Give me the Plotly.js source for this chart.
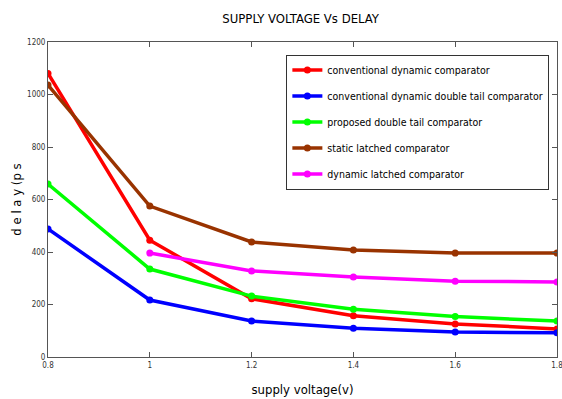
<!DOCTYPE html>
<html>
<head>
<meta charset="utf-8">
<script src="https://cdn.plot.ly/plotly-3.0.1.min.js"></script>
<style>html,body{margin:0;padding:0;background:#fff;}#chart{width:562px;height:399px;}</style>
</head>
<body>
<div id="chart"></div>
<script>
const voltage = [0.8, 1.0, 1.2, 1.4, 1.6, 1.8];
const convDynamic = [1080, 445, 222, 157, 126, 107];
const convDoubleTail = [488, 217, 137, 110, 95, 92];
const proposedDoubleTail = [659, 335, 232, 182, 154, 137];
const staticLatched = [1036, 575, 438, 408, 396, 396];
const dynamicLatchedV = [1.0, 1.2, 1.4, 1.6, 1.8];
const dynamicLatched = [396, 328, 305, 289, 286];
const seriesNames = [
  'conventional dynamic comparator',
  'conventional dynamic double tail comparator',
  'proposed double tail comparator',
  'static latched comparator',
  'dynamic latched comparator'
];
const xTicks = [0.8, 1, 1.2, 1.4, 1.6, 1.8];
const yTicks = [0, 200, 400, 600, 800, 1000, 1200];

const colors = ['#ff0000', '#0000ff', '#00ff00', '#993300', '#ff00ff'];
const xs = [voltage, voltage, voltage, voltage, dynamicLatchedV];
const ys = [convDynamic, convDoubleTail, proposedDoubleTail, staticLatched, dynamicLatched];
const font = 'DejaVu Sans Condensed, Liberation Sans Narrow, sans-serif';

const traces = ys.map((y, i) => ({
  x: xs[i], y: y, name: seriesNames[i], type: 'scatter', mode: 'lines+markers',
  legendgroup: 'g' + i,
  line: {color: colors[i], width: 3.5},
  marker: {color: colors[i], size: 7, symbol: 'circle'}
}));

const layout = {
  width: 562, height: 399,
  margin: {l: 48, r: 5, t: 42, b: 42},
  paper_bgcolor: '#fff', plot_bgcolor: '#fff',
  font: {family: font, color: '#222'},
  title: {text: 'SUPPLY VOLTAGE Vs DELAY', font: {size: 13, family: font, color: '#000'}, x: 0.535, xanchor: 'center', y: 0.955, yanchor: 'middle'},
  xaxis: {
    range: [0.8, 1.8], tickvals: xTicks, ticktext: xTicks.map(String),
    showgrid: false, zeroline: false, showline: true, linecolor: '#555', linewidth: 1, mirror: 'ticks',
    ticks: 'inside', ticklen: 5, tickcolor: '#555', tickfont: {size: 8, family: font, color: '#333'},
    ticklabeloverflow: 'allow',
    title: {text: 'supply voltage(v)', font: {size: 13, family: font, color: '#000'}, standoff: 16}
  },
  yaxis: {
    range: [0, 1200], tickvals: yTicks,
    showgrid: false, zeroline: false, showline: true, linecolor: '#555', linewidth: 1, mirror: 'ticks',
    ticks: 'inside', ticklen: 5, tickcolor: '#555', tickfont: {size: 8, family: font, color: '#333'},
    title: {text: 'd e l a y (p s', font: {size: 13, family: font, color: '#000'}, standoff: 2}
  },
  legend: {
    x: 0.985, y: 0.96, xanchor: 'right', yanchor: 'top',
    bgcolor: '#fff', bordercolor: '#333', borderwidth: 1,
    font: {size: 10.5, family: font, color: '#000'},
    itemwidth: 30, tracegroupgap: 7
  },
  showlegend: true
};

Plotly.newPlot('chart', traces, layout, {displayModeBar: false, staticPlot: true});
</script>
</body>
</html>
